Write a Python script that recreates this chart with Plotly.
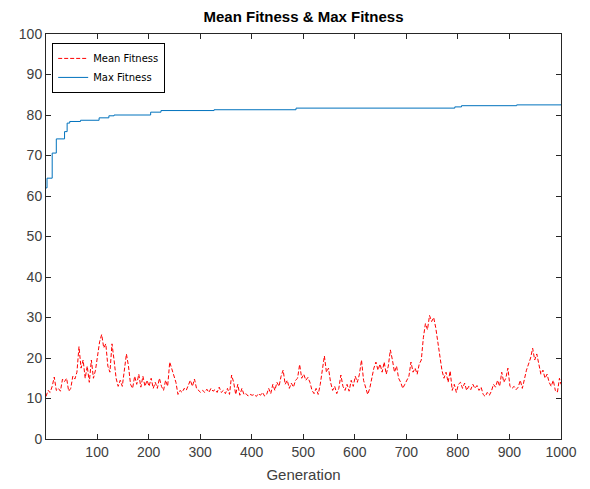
import plotly.graph_objects as go

# Mean fitness sampled every 4 generations (plus the final generation)
mean_gen = list(range(1, 1001, 4)) + [1000]
mean_fitness = [
    10.5, 12.0, 11.5, 13.0, 15.3, 12.0, 12.5, 11.8, 14.8, 14.2, 15.0, 11.8, 12.5, 15.5, 14.8, 16.5, 22.8, 17.5, 19.5, 15.0, 18.0, 14.0, 19.5, 15.0, 17.0,
    21.0, 24.0, 25.8, 22.5, 23.5, 18.0, 16.5, 23.5, 19.5, 15.0, 13.0, 14.5, 13.0, 17.5, 21.0, 18.0, 13.5, 12.5, 15.5, 13.5, 16.0, 12.8, 15.5, 13.0, 14.5,
    13.0, 15.0, 12.5, 14.0, 12.5, 15.0, 13.0, 12.0, 14.5, 13.0, 19.0, 17.5, 15.5, 14.0, 11.0, 12.0, 11.5, 12.5, 12.0, 13.5, 14.5, 13.0, 14.8, 12.5, 12.0,
    11.5, 12.0, 11.5, 12.3, 11.5, 12.5, 11.8, 12.2, 11.5, 12.8, 11.5, 12.0, 11.2, 12.5, 11.0, 15.8, 14.0, 11.0, 13.5, 10.8, 12.5, 11.0, 11.2, 10.6, 11.0,
    10.8, 11.0, 10.5, 11.2, 10.8, 11.5, 10.6, 11.0, 12.5, 11.2, 13.5, 12.0, 14.0, 13.0, 15.5, 17.0, 13.5, 14.5, 12.5, 13.8, 12.8, 14.5, 15.0, 18.4, 15.0,
    16.0, 14.5, 15.2, 14.0, 12.0, 11.2, 12.5, 11.0, 13.5, 17.0, 20.5, 16.5, 17.5, 14.0, 12.0, 13.0, 11.2, 12.5, 15.8, 13.0, 12.0, 13.5, 11.8, 14.5, 13.0,
    15.5, 14.0, 16.0, 19.5, 14.5, 13.0, 11.0, 12.5, 15.0, 17.5, 19.0, 17.0, 18.5, 16.5, 19.0, 16.0, 18.0, 22.0, 19.5, 16.5, 18.0, 15.0, 14.0, 12.5, 13.5,
    14.5, 15.5, 19.0, 16.5, 17.5, 16.0, 18.5, 19.5, 25.0, 28.5, 27.0, 30.5, 29.0, 30.0, 27.5, 24.0, 19.5, 17.0, 15.0, 16.5, 14.0, 16.8, 12.0, 13.5, 11.5,
    13.5, 14.0, 12.5, 13.8, 12.0, 13.0, 12.2, 13.5, 12.5, 13.2, 12.0, 12.8, 11.0, 10.5, 11.5, 10.8, 11.8, 13.5, 12.8, 14.5, 13.0, 16.5, 14.0, 15.0, 17.5,
    13.0, 12.5, 13.0, 12.2, 12.8, 14.5, 12.5, 15.0, 17.0, 18.5, 20.0, 22.4, 19.5, 21.0, 18.5, 16.0, 17.0, 15.0, 16.0, 14.0, 13.0, 14.5, 12.0, 11.5, 15.0,
    13.5,
]

# Max fitness: generations where the best value changes (step function)
max_gen = [1, 3, 13, 21, 37, 42, 47, 68, 104, 123, 133, 204, 224, 327, 486, 794, 807, 914, 1000]
max_fitness = [62.0, 64.4, 70.6, 74.1, 75.9, 78.0, 78.4, 78.7, 79.3, 79.8, 80.0, 80.7, 81.1, 81.3, 81.7, 82.0, 82.3, 82.5, 82.6]

x_ticks = [100, 200, 300, 400, 500, 600, 700, 800, 900, 1000]
y_ticks = [0, 10, 20, 30, 40, 50, 60, 70, 80, 90, 100]

fig = go.Figure()
fig.add_trace(go.Scatter(
    x=mean_gen, y=mean_fitness, mode="lines", name="Mean Fitness",
    line=dict(color="#FF0000", width=1, dash="4px,2px"),
))
fig.add_trace(go.Scatter(
    x=max_gen, y=max_fitness, mode="lines", name="Max Fitness",
    line=dict(color="#0072BD", width=1, shape="hv"),
))

axis_common = dict(
    showline=True, linecolor="#262626", linewidth=1, mirror="ticks",
    ticks="inside", ticklen=5, tickcolor="#262626", showgrid=False, zeroline=False,
    tickfont=dict(family="Liberation Sans, Arial, sans-serif", size=14, color="#404040"),
)

fig.update_layout(
    width=590, height=489,
    margin=dict(l=38, r=37, t=26, b=58),
    paper_bgcolor="white", plot_bgcolor="white",
    title=dict(text="<b>Mean Fitness & Max Fitness</b>", x=0.5, xanchor="center",
               xref="paper", y=0.982, yanchor="middle",
               font=dict(family="Liberation Sans, Arial, sans-serif", size=15, color="black")),
    xaxis=dict(range=[1, 1000], tickvals=x_ticks,
               title=dict(text="Generation", standoff=10,
                          font=dict(family="Liberation Sans, Arial, sans-serif", size=15, color="#404040")),
               **axis_common),
    yaxis=dict(range=[0, 100], tickvals=y_ticks, **axis_common),
    legend=dict(x=0.012, y=0.978, xanchor="left", yanchor="top",
                bordercolor="black", borderwidth=1, bgcolor="white",
                font=dict(family="DejaVu Sans, sans-serif", size=10, color="black"),
                tracegroupgap=0, itemwidth=30),
    showlegend=True,
)

fig.write_html("out.html")
